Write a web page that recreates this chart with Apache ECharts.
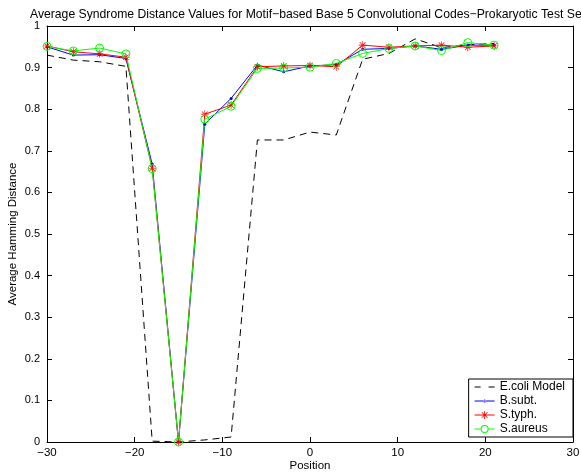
<!DOCTYPE html>
<html>
<head>
<meta charset="utf-8">
<script src="https://cdn.jsdelivr.net/npm/echarts@6/dist/echarts.min.js"></script>
<style>html,body{margin:0;padding:0;background:#fff;}#c{width:581px;height:473px;}</style>
</head>
<body>
<div id="c"></div>
<script>
var positions = [-30,-27,-24,-21,-18,-15,-12,-9,-6,-3,0,3,6,9,12,15,18,21];
var ecoli   = [0.930,0.918,0.914,0.903,0.002,0.000,0.005,0.012,0.726,0.726,0.745,0.738,0.920,0.934,0.969,0.948,0.955,0.958];
var bsubt   = [0.950,0.930,0.931,0.922,0.668,0.000,0.764,0.826,0.906,0.890,0.904,0.907,0.944,0.946,0.952,0.944,0.954,0.954];
var styph   = [0.952,0.938,0.933,0.925,0.658,0.000,0.788,0.810,0.902,0.904,0.905,0.902,0.954,0.949,0.952,0.954,0.949,0.952];
var saureus = [0.951,0.940,0.947,0.933,0.657,0.000,0.776,0.807,0.898,0.899,0.901,0.910,0.934,0.946,0.952,0.941,0.960,0.954];
var seriesNames = ['E.coli Model','B.subt.','S.typh.','S.aureus'];
var titleText = 'Average Syndrome Distance Values for Motif\u2212based Base 5 Convolutional Codes\u2212Prokaryotic Test Set';

function pairs(v){ return positions.map(function(p,i){ return [p, v[i]]; }); }
var FONT = 'Liberation Sans, Arial, Helvetica, sans-serif';
var star = 'path://M-0.8,-10 L0.8,-10 L0.8,10 L-0.8,10 Z M-10,-0.8 L10,-0.8 L10,0.8 L-10,0.8 Z M-7.6,-6.4 L6.4,7.6 L7.6,6.4 L-6.4,-7.6 Z M6.4,-7.6 L7.6,-6.4 L-6.4,7.6 L-7.6,6.4 Z';

// legend icons (line sample + marker), bbox width 20
var iconDash  = 'path://M0,4 L6,4 L6,5 L0,5 Z M14,4 L20,4 L20,5 L14,5 Z';
var iconBlue  = 'path://M0,4 L20,4 L20,5 L0,5 Z M11.5,4.5 A1.5,1.5 0 1,0 8.5,4.5 A1.5,1.5 0 1,0 11.5,4.5 Z';
var iconRed   = 'path://M0,4 L20,4 L20,5 L0,5 Z M9.6,0.5 L10.4,0.5 L10.4,8.5 L9.6,8.5 Z M6,4.1 L14,4.1 L14,4.9 L6,4.9 Z M7.4,1.4 L13.1,7.0 L12.6,7.6 L6.9,1.9 Z M12.6,1.4 L13.1,1.9 L7.4,7.6 L6.9,7.0 Z';
var iconGreen = 'path://M0,4 L6,4 L6,5 L0,5 Z M14,4 L20,4 L20,5 L14,5 Z M14,4.5 A4,4 0 1,0 6,4.5 A4,4 0 1,0 14,4.5 Z M13,4.5 A3,3 0 1,1 7,4.5 A3,3 0 1,1 13,4.5 Z';

var chart = echarts.init(document.getElementById('c'), null, {renderer:'canvas'});
function axisCommon(){
  return {
    axisLine:{show:true, onZero:false, lineStyle:{color:'#000', width:1}},
    axisTick:{show:true, inside:true, length:5, lineStyle:{color:'#000'}},
    splitLine:{show:false}
  };
}
chart.setOption({
  animation:false,
  backgroundColor:'#fff',
  title:{text:titleText, left:25, top:4, textStyle:{fontFamily:FONT, fontSize:12.2, fontWeight:'normal', color:'#000'}},
  grid:{left:47, right:8, top:26, bottom:31, containLabel:false, outerBoundsMode:'none'},
  legend:{
    orient:'vertical', right:8, bottom:36,
    data:[
      {name:seriesNames[0], icon:iconDash,  itemStyle:{color:'#000', borderWidth:0}},
      {name:seriesNames[1], icon:iconBlue,  itemStyle:{color:'#0000ff', borderWidth:0}},
      {name:seriesNames[2], icon:iconRed,   itemStyle:{color:'#ff0000', borderWidth:0}},
      {name:seriesNames[3], icon:iconGreen, itemStyle:{color:'#00ff00', borderWidth:0}}
    ],
    backgroundColor:'#fff', borderColor:'#000', borderWidth:1,
    padding:[2,8,2,6], itemGap:2, itemWidth:20, itemHeight:10,
    textStyle:{fontFamily:FONT, fontSize:12, color:'#000'}
  },
  xAxis:[
    Object.assign(axisCommon(), {type:'value', min:-30, max:30, interval:10, position:'bottom',
      name:'Position', nameLocation:'middle', nameGap:18, nameMoveOverlap:false,
      nameTextStyle:{fontFamily:FONT, fontSize:11.5, color:'#000'},
      axisLabel:{fontFamily:FONT, fontSize:11.5, color:'#000', margin:5,
        formatter:function(v){ return String(v).replace('-', '\u2212'); }}}),
    Object.assign(axisCommon(), {type:'value', min:-30, max:30, interval:10, position:'top', axisLabel:{show:false}})
  ],
  yAxis:[
    Object.assign(axisCommon(), {type:'value', min:0, max:1, interval:0.1, position:'left',
      name:'Average Hamming Distance', nameLocation:'middle', nameGap:28, nameMoveOverlap:false,
      nameTextStyle:{fontFamily:FONT, fontSize:11.5, color:'#000'},
      axisLabel:{fontFamily:FONT, fontSize:11, color:'#000', margin:7}}),
    Object.assign(axisCommon(), {type:'value', min:0, max:1, interval:0.1, position:'right', axisLabel:{show:false}})
  ],
  series:[
    {name:seriesNames[0], type:'line', data:pairs(ecoli), symbol:'none',
      lineStyle:{color:'#000', width:1, type:[7,5]}, itemStyle:{color:'#000'}},
    {name:seriesNames[1], type:'line', data:pairs(bsubt), symbol:'circle', symbolSize:3,
      lineStyle:{color:'#0000ff', width:1}, itemStyle:{color:'#0000ff'}},
    {name:seriesNames[2], type:'line', data:pairs(styph), symbol:star, symbolSize:8,
      lineStyle:{color:'#ff0000', width:1}, itemStyle:{color:'#ff0000'}},
    {name:seriesNames[3], type:'line', data:pairs(saureus), symbol:'circle', symbolSize:8,
      lineStyle:{color:'#00ff00', width:1}, itemStyle:{color:'rgba(0,0,0,0)', borderColor:'#00ff00', borderWidth:1}}
  ]
});
</script>
</body>
</html>
